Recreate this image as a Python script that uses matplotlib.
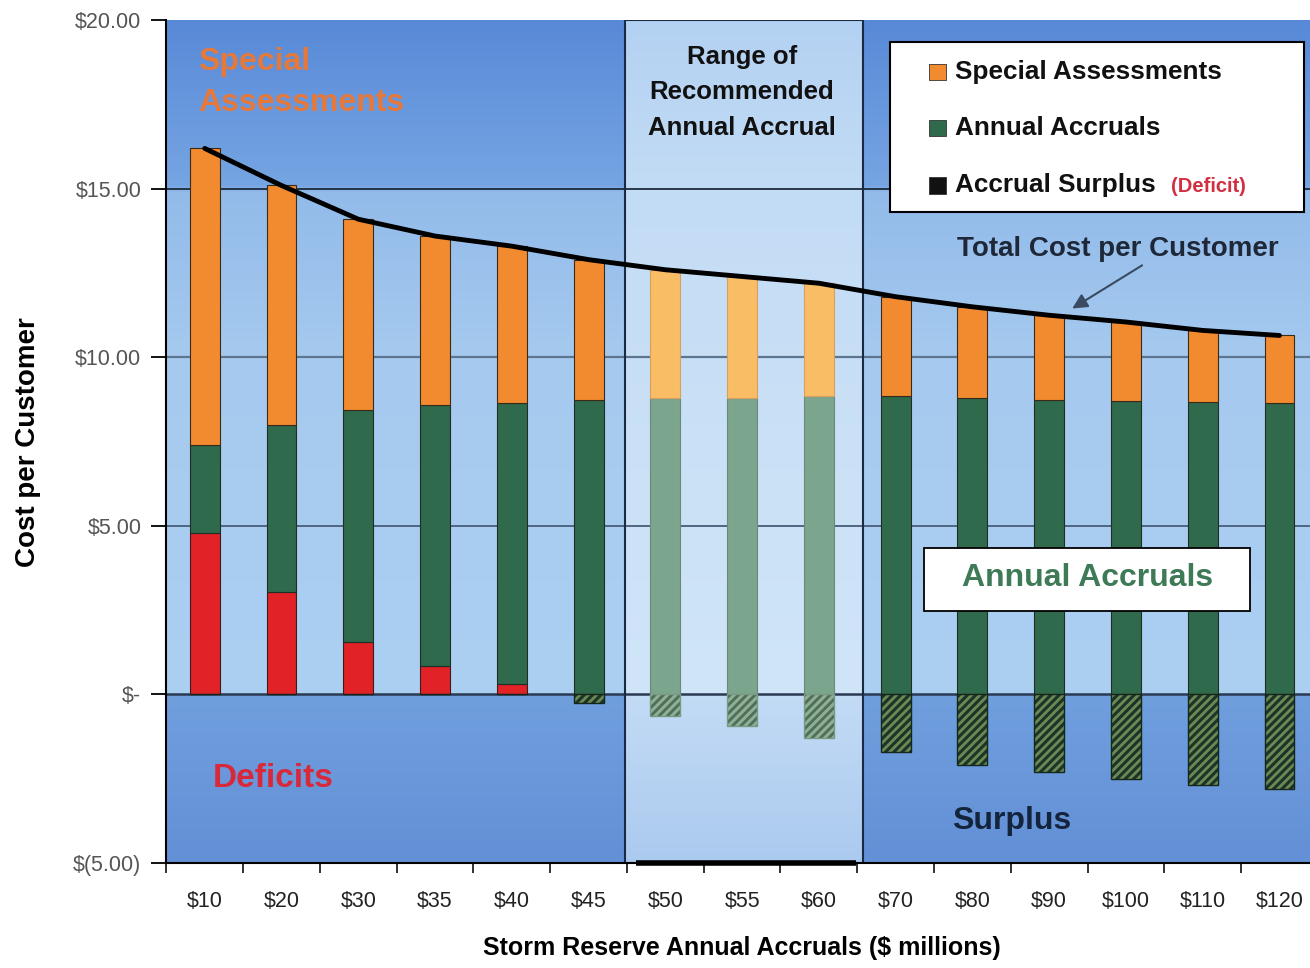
import numpy as np
import matplotlib
matplotlib.use('Agg')
import matplotlib.pyplot as plt
from matplotlib.patches import Rectangle
from matplotlib.colors import to_rgb
from matplotlib.ticker import FixedLocator, FuncFormatter

plt.rcParams['font.family'] = ['Liberation Sans', 'DejaVu Sans']
plt.rcParams['hatch.linewidth'] = 2.0

# 储备金年度计提方案（百万美元）及每户成本构成
categories = ['$10', '$20', '$30', '$35', '$40', '$45', '$50', '$55',
              '$60', '$70', '$80', '$90', '$100', '$110', '$120']
deficit = [4.8, 3.05, 1.55, 0.85, 0.3, 0, 0, 0, 0, 0, 0, 0, 0, 0, 0]
accruals = [2.6, 4.95, 6.9, 7.75, 8.35, 8.75, 8.8, 8.8, 8.85, 8.85,
            8.8, 8.75, 8.72, 8.68, 8.66]
special = [8.8, 7.1, 5.65, 5.0, 4.65, 4.15, 3.8, 3.6, 3.35, 2.95,
           2.7, 2.5, 2.33, 2.12, 1.99]
surplus = [0, 0, 0, 0, 0, -0.25, -0.65, -0.95, -1.28, -1.72,
           -2.08, -2.3, -2.5, -2.68, -2.8]
recommended = [6, 7, 8]   # 推荐区间内的方案序号

x = np.arange(len(categories))
deficit = np.array(deficit)
accruals = np.array(accruals)
special = np.array(special)
total = deficit + accruals + special

band_lo, band_hi = 5.47, 8.58
xmin, xmax, ymin, ymax = -0.5, 14.5, -5, 20

fig = plt.figure(figsize=(13.1, 9.68), dpi=100)
ax = fig.add_axes([0.127, 0.1085, 0.879, 0.8705])

# 背景渐变：两侧深蓝，推荐区间浅蓝
def ramp(stops, ys):
    yv = [s[0] for s in stops]
    cols = np.array([to_rgb(s[1]) for s in stops])
    return np.stack([np.interp(ys, yv, cols[:, i]) for i in range(3)], axis=1)

ys = np.linspace(ymin, ymax, 1000)
outer = ramp([(-5, '#6390d6'), (-0.01, '#709fde'), (0.01, '#acd0f2'),
              (10, '#a6caef'), (14.9, '#92bbea'), (15.1, '#76a5e3'),
              (20, '#5889d7')], ys)
inner = ramp([(-5, '#abcaef'), (-0.01, '#c3dbf5'), (0.01, '#d0e5f8'),
              (15, '#c3dcf5'), (20, '#b3d1f2')], ys)
xs = np.linspace(xmin, xmax, 1500)
inband = (xs >= band_lo) & (xs <= band_hi)
bg = np.where(inband[None, :, None], inner[:, None, :], outer[:, None, :])
ax.imshow(bg[::-1], extent=[xmin, xmax, ymin, ymax], aspect='auto',
          interpolation='nearest', zorder=0)

ax.axhline(15, color='#1c2a3c', lw=1.3, zorder=1)
ax.axhline(10, color='#5c7590', lw=1.6, zorder=1)
ax.axhline(5, color='#4e6680', lw=1.4, zorder=1)
ax.axhline(0, color='#2a3a52', lw=1.8, zorder=1)
ax.add_patch(Rectangle((band_lo, ymin), band_hi - band_lo, ymax - ymin,
                       fill=False, edgecolor='#1a2a44', lw=1.5, zorder=1.5))
ax.plot([band_lo + 0.15, band_hi - 0.1], [ymin, ymin], color='black', lw=4,
        zorder=6, clip_on=False, solid_capstyle='butt')

# 柱子颜色，推荐区间内为淡色
def pick(normal, light):
    return [light if i in recommended else normal for i in x]

w = 0.39
ax.bar(x, deficit, w, color='#e12226', edgecolor='#3a1c1c', lw=0.8, zorder=3)
ax.bar(x, accruals, w, bottom=deficit,
       color=pick('#2f6a4c', '#7ca58e'), edgecolor=pick('#1e2e26', '#6a8a78'),
       lw=0.8, zorder=3)
ax.bar(x, special, w, bottom=deficit + accruals,
       color=pick('#f28a30', '#f9bd66'), edgecolor=pick('#3a2a1a', '#d8a060'),
       lw=0.8, zorder=3)
ax.bar(x, surplus, w, color=pick('#1d3526', '#8fae96'),
       edgecolor=pick('#6b8a55', '#4f6e58'), hatch='////', lw=0, zorder=3)
ax.bar(x, surplus, w, fill=False, edgecolor=pick('#15261c', '#7a9a84'),
       lw=1.0, zorder=3.5)

ax.plot(x, total, color='black', lw=3.5, zorder=5, solid_capstyle='round')

ax.set_xlim(xmin, xmax)
ax.set_ylim(ymin, ymax)

# 坐标轴
for s in ['top', 'right']:
    ax.spines[s].set_visible(False)
ax.spines['left'].set_linewidth(1.5)
ax.spines['bottom'].set_linewidth(1.5)
ax.spines['left'].set_zorder(6)
ax.spines['bottom'].set_zorder(6)

def money(v, pos):
    if v == 0:
        return '$-'
    if v < 0:
        return '$(%.2f)' % -v
    return '$%.2f' % v

ax.set_yticks([-5, 0, 5, 10, 15, 20])
ax.yaxis.set_major_formatter(FuncFormatter(money))
ax.tick_params(axis='y', direction='out', length=11, width=1.3, pad=7,
               labelsize=15.5, labelcolor='#555555', color='black')
ax.set_xticks(x)
ax.set_xticklabels(categories)
ax.xaxis.set_minor_locator(FixedLocator(np.arange(xmin, xmax + 0.01, 1)))
ax.tick_params(axis='x', which='major', length=0, pad=20, labelsize=15.5,
               labelcolor='#222222')
ax.tick_params(axis='x', which='minor', direction='out', length=7, width=1.3,
               color='#222222')

fig.text(0.021, 0.543, 'Cost per Customer', rotation=90, ha='center',
         va='center', fontsize=20, fontweight='bold')
fig.text(0.566, 0.021, 'Storm Reserve Annual Accruals ($ millions)',
         ha='center', va='center', fontsize=18, fontweight='bold')

# 区域说明文字
ax.text(-0.09, 18.16, 'Special\nAssessments', ha='left', va='center',
        fontsize=23, fontweight='bold', color='#e5793b', linespacing=1.45,
        zorder=7)
ax.text(7.0, 17.86, 'Range of\nRecommended\nAnnual Accrual', ha='center',
        va='center', fontsize=18.5, fontweight='bold', color='#111111',
        linespacing=1.6, zorder=7)
ax.text(0.10, -2.49, 'Deficits', ha='left', va='center', fontsize=24,
        fontweight='bold', color='#d8283a', zorder=7)
ax.text(9.73, -3.74, 'Surplus', ha='left', va='center', fontsize=23,
        fontweight='bold', color='#14243c', zorder=7)

# 图例框
ax.add_patch(Rectangle((8.92, 14.3), 5.4, 5.05, facecolor='white',
                       edgecolor='black', lw=1.5, zorder=7))
legend_items = [('#f28a30', 'Special Assessments', 18.46),
                ('#2f6a4c', 'Annual Accruals', 16.80),
                ('#111111', 'Accrual Surplus', 15.10)]
for col, lab, yy in legend_items:
    ax.add_patch(Rectangle((9.44, yy - 0.24), 0.21, 0.48, facecolor=col,
                           edgecolor='#333333', lw=0.6, zorder=8))
    ax.text(9.77, yy, lab, ha='left', va='center', fontsize=18.8,
            fontweight='bold', color='#111111', zorder=8)
ax.text(12.59, 15.07, '(Deficit)', ha='left', va='center', fontsize=14.5,
        fontweight='bold', color='#d23040', zorder=8)

ax.annotate('', xy=(11.30, 11.45), xytext=(12.21, 12.73),
            arrowprops=dict(arrowstyle='-|>,head_length=0.9,head_width=0.45',
                            color='#3a4a60', lw=1.5, shrinkA=0, shrinkB=0),
            zorder=8)
ax.text(9.80, 13.23, 'Total Cost per Customer', ha='left', va='center',
        fontsize=20, fontweight='bold', color='#1e2838', zorder=8)

ax.add_patch(Rectangle((9.375, 2.49), 4.235, 1.84, facecolor='white',
                       edgecolor='black', lw=1.3, zorder=7))
ax.text(11.50, 3.44, 'Annual Accruals', ha='center', va='center',
        fontsize=23, fontweight='bold', color='#3d7a55', zorder=8)

plt.savefig('out.png', dpi=100)
plt.close()
